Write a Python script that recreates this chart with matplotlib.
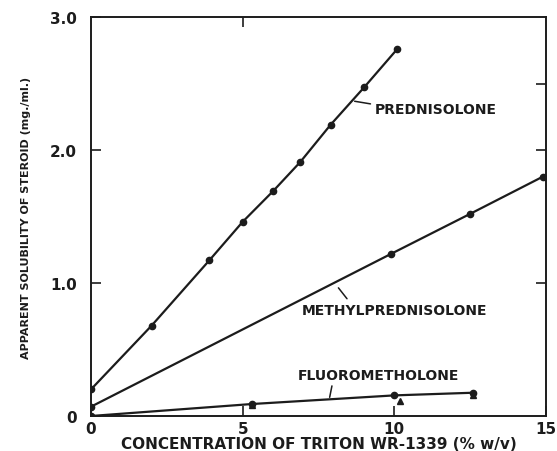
import matplotlib
matplotlib.use("Agg")
import matplotlib.pyplot as plt

# data
pred_x = [0, 2, 3.9, 5.0, 6.0, 6.9, 7.9, 9.0, 10.1]
pred_y = [0.20, 0.68, 1.17, 1.46, 1.69, 1.91, 2.19, 2.47, 2.76]

methyl_x = [0, 9.9, 12.5, 14.9]
methyl_y = [0.07, 1.22, 1.52, 1.80]

fluoro_x = [0, 5.3, 10.0, 12.6]
fluoro_y = [0.0, 0.09, 0.155, 0.175]
fluoro_tri_x = [5.3, 10.2, 12.6]
fluoro_tri_y = [0.08, 0.11, 0.16]

xticks = [0, 5, 10, 15]
xticklabels = ["0", "5", "10", "15"]
yticks = [0, 1, 2, 3]
yticklabels = ["0", "1.0", "2.0", "3.0"]

ink = "#1c1c1c"
fig = plt.figure(figsize=(5.57, 4.52), dpi=100)
ax = fig.add_axes([91 / 557, 1 - 417 / 452, (546 - 91) / 557, (417 - 18) / 452])

ax.plot(pred_x, pred_y, color=ink, lw=1.6, marker="o", ms=4.5)
ax.plot(methyl_x, methyl_y, color=ink, lw=1.6, marker="o", ms=4.5)
ax.plot(fluoro_x, fluoro_y, color=ink, lw=1.6, marker="o", ms=4.5)
ax.plot(fluoro_tri_x, fluoro_tri_y, ls="none", color=ink, marker="^", ms=5)

ax.set_xlim(0, 15)
ax.set_ylim(0, 3)
for s in ax.spines.values():
    s.set_color(ink)
    s.set_linewidth(1.4)

ax.set_xticks(xticks, xticklabels)
ax.set_yticks(yticks, yticklabels)
ax.tick_params(direction="in", length=7, width=1.2, color=ink,
               labelsize=11, labelcolor=ink)
ax.tick_params(axis="y", pad=10)
for t in ax.get_xticklabels() + ax.get_yticklabels():
    t.set_fontweight("bold")

top = ax.secondary_xaxis("top")
top.set_xticks([5])
top.tick_params(direction="in", length=7, width=1.2, color=ink, labeltop=False)
top.spines["top"].set_visible(False)
right = ax.secondary_yaxis("right")
right.set_yticks([1, 2, 2.5])
right.tick_params(direction="in", length=7, width=1.2, color=ink, labelright=False)
right.spines["right"].set_visible(False)

ax.set_xlabel("CONCENTRATION OF TRITON WR-1339 (% w/v)", fontsize=11,
              fontweight="bold", color=ink, labelpad=0)
ax.set_ylabel("APPARENT SOLUBILITY OF STEROID (mg./ml.)", fontsize=8,
              fontweight="bold", color=ink, labelpad=14)

lead = dict(arrowstyle="-", color=ink, lw=1.1, shrinkA=1, shrinkB=2)
ax.annotate("PREDNISOLONE", xy=(8.6, 2.37), xytext=(9.35, 2.31),
            ha="left", va="center", fontsize=10, fontweight="bold", color=ink,
            arrowprops=dict(lead, relpos=(0, 0.8)))
ax.annotate("METHYLPREDNISOLONE", xy=(8.1, 0.98), xytext=(6.95, 0.80),
            ha="left", va="center", fontsize=10, fontweight="bold", color=ink,
            arrowprops=dict(lead, relpos=(0.26, 1)))
ax.annotate("FLUOROMETHOLONE", xy=(7.85, 0.12), xytext=(6.8, 0.31),
            ha="left", va="center", fontsize=10, fontweight="bold", color=ink,
            arrowprops=dict(lead, relpos=(0.22, 0)))

fig.savefig("out.png", dpi=100, facecolor="white")
